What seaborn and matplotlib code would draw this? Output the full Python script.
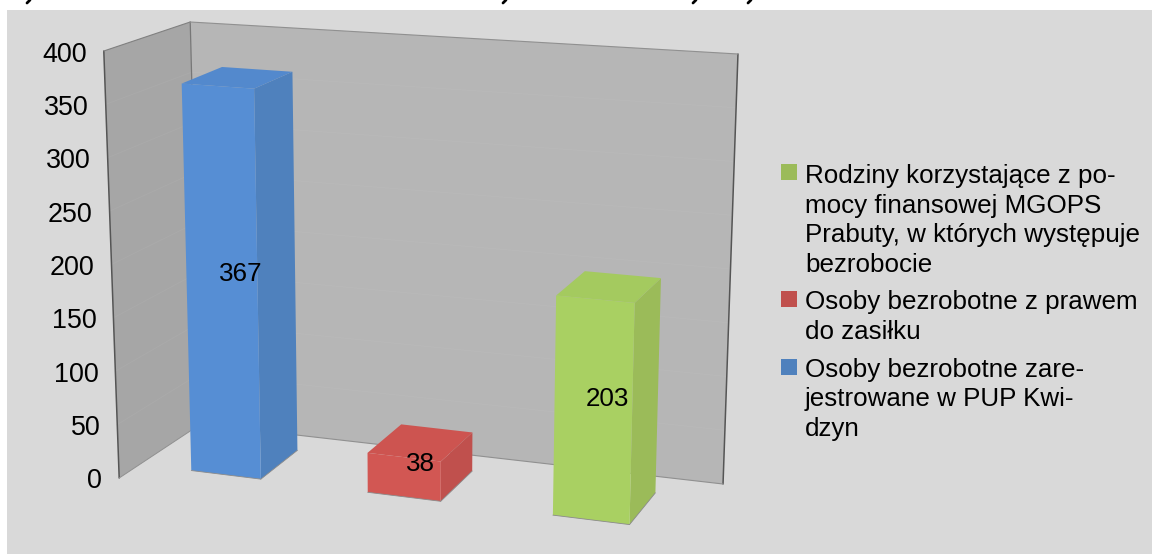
import numpy as np
import pandas as pd
import matplotlib
matplotlib.use("Agg")
import matplotlib.pyplot as plt
from matplotlib.patches import Polygon, Rectangle
from matplotlib.transforms import Affine2D, Transform
import seaborn as sns

categories = ["Osoby bezrobotne zarejestrowane", "Osoby bezrobotne z prawem do zasiłku", "Rodziny korzystające"]
values = [367, 38, 203]
front_colors = ["#568ed4", "#d25753", "#a9d062"]
side_colors = ["#4f81bd", "#c0504d", "#9bbb59"]
top_colors = ["#5389cd", "#cd5450", "#a4ca5f"]
y_ticks = [0, 50, 100, 150, 200, 250, 300, 350, 400]
legend_labels = [
    "Rodziny korzystające z po-\nmocy finansowej MGOPS\nPrabuty, w których występuje\nbezrobocie",
    "Osoby bezrobotne z prawem\ndo zasiłku",
    "Osoby bezrobotne zare-\njestrowane w PUP Kwi-\ndzyn",
]
legend_order = [2, 1, 0]

W, H = 1152, 554
BAR_W = 0.40
D0, D1 = 0.12, 0.72
FS = 18.7

# camera calibrations: (category axis, depth, value) -> reference pixel
wall_calib = [
    (-.5, 0, 0, 201, 424), (2.5, 0, 0, 723, 484), (-.5, 0, 400, 190, 22), (2.5, 0, 400, 738, 54),
    (-.5, 1, 400, 104, 51), (-.5, 1, 0, 119, 478),
]
bar_calib = [
    (-.2, D1, 0, 191, 471), (.2, D1, 0, 262, 479), (.2, D0, 0, 297, 450),
    (-.2, D1, 367, 182, 83), (.2, D1, 367, 254, 89), (.2, D0, 367, 292, 72), (-.2, D0, 367, 222, 67),
    (.8, D1, 0, 367, 493), (1.2, D1, 0, 441, 501), (1.2, D0, 0, 472, 472),
    (.8, D1, 38, 367, 453), (1.2, D1, 38, 442, 460), (1.2, D0, 38, 472, 432), (.8, D0, 38, 402, 424),
    (1.8, D1, 0, 552, 516), (2.2, D1, 0, 629, 525), (2.2, D0, 0, 656, 492),
    (1.8, D1, 203, 556, 295), (2.2, D1, 203, 635, 303), (2.2, D0, 203, 661, 278), (1.8, D0, 203, 585, 272),
]


def fit_camera(calib):
    A, b = [], []
    for X, D, V, u, v in calib:
        A.append([X, D, V, 1, 0, 0, 0, 0, -u * X, -u * D, -u * V])
        b.append(u)
        A.append([0, 0, 0, 0, X, D, V, 1, -v * X, -v * D, -v * V])
        b.append(v)
    sol = np.linalg.lstsq(np.array(A, float), np.array(b, float), rcond=None)[0]
    return np.append(sol, 1).reshape(3, 4)


WALL_CAM = fit_camera(wall_calib)
BAR_CAM = fit_camera(bar_calib)


def project(cam, X, D, V):
    p = cam @ np.array([X, D, V, 1.0])
    return p[0] / p[2], p[1] / p[2]


def wall(X, D, V):
    return project(WALL_CAM, X, D, V)


def bar(X, D, V):
    return project(BAR_CAM, X, D, V)


def wall_level(X, D, t):
    """Point at value t on a vertical wall edge; the value scale is even along the edge."""
    lo, hi = np.array(wall(X, D, 0)), np.array(wall(X, D, y_ticks[-1]))
    return tuple(lo + (hi - lo) * t / y_ticks[-1])


class FrontFace(Transform):
    input_dims = output_dims = 2

    def transform_non_affine(self, xy):
        xy = np.asarray(xy, float)
        return np.array([bar(x, D1, y) for x, y in xy]).reshape(-1, 2)


sns.set_theme(style="white")
plt.rcParams["font.family"] = ["Liberation Sans", "DejaVu Sans"]

fig = plt.figure(figsize=(W / 100, H / 100), dpi=100, facecolor="white")
ax = fig.add_axes([0, 0, 1, 1])
ax.patch.set_alpha(0)
data = pd.DataFrame({"category": categories, "value": values})
sns.barplot(data=data, x="category", y="value", hue="category", palette=front_colors,
            width=BAR_W, legend=False, ax=ax, saturation=1, linewidth=0)
ax.set_axis_off()
px = Affine2D().scale(1, -1).translate(0, H)  # reference pixels -> display


def poly(points, color, z):
    ax.add_patch(Polygon(points, closed=True, facecolor=color, edgecolor="none", linewidth=0,
                         transform=px, zorder=z, clip_on=False))


def line(a, b, color, lw, z=1.5):
    ax.plot([a[0], b[0]], [a[1], b[1]], color=color, lw=lw, transform=px, zorder=z, clip_on=False)


ax.add_patch(Rectangle((7, 10), W - 7, H - 10, facecolor="#d9d9d9", edgecolor="none",
                       transform=px, zorder=0, clip_on=False))

# ink of the cropped heading above the panel (its text is cut off in the source)
for gx in [29, 505, 695, 750]:
    line((gx - 2, 3), (gx + 1, 0), "black", 2.0, 1)

XL, XR, VT = -0.5, 2.5, y_ticks[-1]
poly([wall(XL, 1, 0), wall(XL, 0, 0), wall(XL, 0, VT), wall(XL, 1, VT)], "#a6a6a6", 1)
poly([wall(XL, 0, 0), wall(XR, 0, 0), wall(XR, 0, VT), wall(XL, 0, VT)], "#b6b6b6", 1)
for t in y_ticks[1:-1]:
    line(wall_level(XL, 1, t), wall_level(XL, 0, t), "#aaaaaa", 0.7)
    line(wall_level(XL, 0, t), wall_level(XR, 0, t), "#b9b9b9", 0.7)
line(wall(XL, 1, 0), wall(XL, 1, VT), "#555555", 1.1)
line(wall(XL, 0, 0), wall(XL, 0, VT), "#777777", 0.9)
line(wall(XR, 0, 0), wall(XR, 0, VT), "#555555", 1.1)
line(wall(XL, 1, VT), wall(XL, 0, VT), "#808080", 0.8)
line(wall(XL, 0, VT), wall(XR, 0, VT), "#909090", 0.8)
line(wall(XL, 1, 0), wall(XL, 0, 0), "#909090", 0.7)
line(wall(XL, 0, 0), wall(XR, 0, 0), "#909090", 0.8)

for t in y_ticks:
    u, v = wall_level(XL, 1, t)
    ax.text(u - 17, v + 3.5, str(t), ha="right", va="center", fontsize=19.4, color="black", transform=px)

for rect, val, side, top in zip(ax.patches, values, side_colors, top_colors):
    x0, x1 = rect.get_x(), rect.get_x() + rect.get_width()
    h = rect.get_height()
    rect.set_transform(FrontFace() + px)
    rect.set_clip_on(False)
    rect.set_zorder(5)
    poly([bar(x1, D1, 0), bar(x1, D0, 0), bar(x1, D0, h), bar(x1, D1, h)], side, 4)
    poly([bar(x0, D1, h), bar(x1, D1, h), bar(x1, D0, h), bar(x0, D0, h)], top, 4)
    line(bar(x0, D1, 0), bar(x1, D1, 0), "#8a8a8a", 0.6, 6)
    line(bar(x1, D1, 0), bar(x1, D0, 0), "#8a8a8a", 0.6, 6)
    corners = np.array([bar(x, d, z) for x in (x0, x1) for d in (D0, D1) for z in (0, h)])
    cx = (corners[:, 0].min() + corners[:, 0].max()) / 2
    cy = (corners[:, 1].min() + corners[:, 1].max()) / 2
    ax.text(cx + 1, cy + 1, f"{val:g}", ha="center", va="center", fontsize=FS, color="black",
            transform=px, zorder=7)

baselines = [272, 339, 436]
swatch_y = [172, 299, 367]
for label, i, base, sy in zip(legend_labels, legend_order, baselines, swatch_y):
    ax.add_patch(Rectangle((781, sy - 8), 16, 16, facecolor=side_colors[i], edgecolor="none",
                           transform=px, zorder=3, clip_on=False))
    ax.text(805, base, label, ha="left", va="baseline", fontsize=FS, color="black", linespacing=1.29,
            transform=px, zorder=3)

fig.savefig("out.png", dpi=100)
